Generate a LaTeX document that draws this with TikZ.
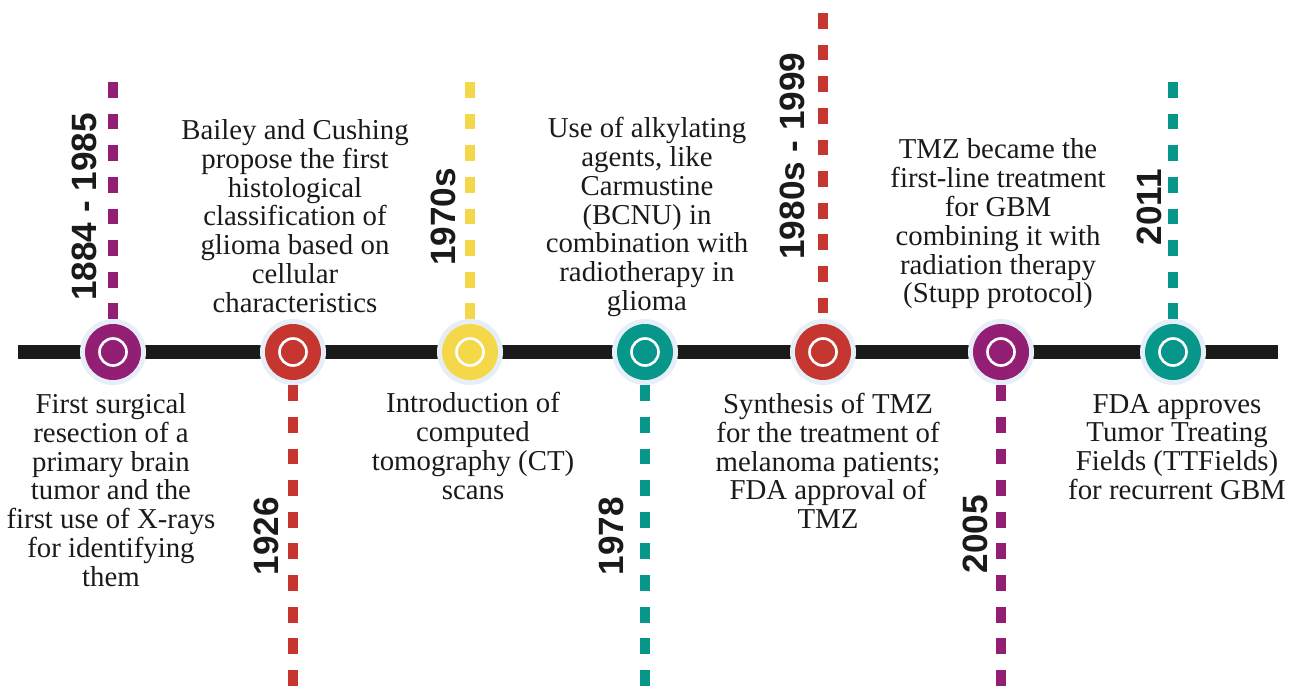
\documentclass[tikz,border=0pt]{standalone}
\usepackage{fontspec}
\setmainfont{Liberation Serif}
\newfontfamily\evfont{Liberation Serif}
\newfontfamily\yearfont{Liberation Sans}
\definecolor{tlpurple}{HTML}{931F74}
\definecolor{tlred}{HTML}{C4362F}
\definecolor{tlyellow}{HTML}{F4D84A}
\definecolor{tlteal}{HTML}{07968A}
\definecolor{tlpale}{HTML}{E6EEF8}
\definecolor{tlblack}{HTML}{1A1A1A}
\tikzset{
  evtext/.style={align=center, inner sep=0pt, text=tlblack, font=\evfont\fontsize{16.4}{16.4}\selectfont},
  yeartext/.style={rotate=90, inner sep=0pt, text=tlblack, font=\yearfont\bfseries\fontsize{20}{22}\selectfont},
  ring/.style={circle, fill=tlpale, minimum size=1.32cm, inner sep=0pt},
  dashline/.style={line width=5.9pt, dash pattern=on 9pt off 9pt},
}
\begin{document}
\begin{tikzpicture}[x=0.02cm, y=-0.02cm]
\useasboundingbox (0,0) rectangle (1290,693);
% timeline
\coordinate (L) at (18,352);
\coordinate (R) at (1278,352);
\draw[line width=8pt, tlblack] (L) -- (R);
% circles
\foreach \n/\x/\c in {c1/113/tlpurple, c2/293/tlred, c3/470/tlyellow, c4/645/tlteal, c5/823/tlred, c6/1001/tlpurple, c7/1173/tlteal}{
  \node[ring] (\n) at (\x,352) {};
  \fill[\c] (\n.center) circle[radius=28];
  \draw[white, line width=1.5pt] (\n.center) circle[radius=13.5];
}
% dashed connectors
\coordinate (t1) at (113,82);
\coordinate (b2) at (293,693);
\coordinate (t3) at (470,82);
\coordinate (b4) at (645,693);
\coordinate (t5) at (823,13);
\coordinate (b6) at (1001,693);
\coordinate (t7) at (1173,82);
\draw[dashline, tlpurple] (t1) -- (c1.north);
\draw[dashline, tlred] (c2.south) -- (b2);
\draw[dashline, tlyellow] (t3) -- (c3.north);
\draw[dashline, tlteal] (c4.south) -- (b4);
\draw[dashline, tlred] (t5) -- (c5.north);
\draw[dashline, tlpurple] (c6.south) -- (b6);
\draw[dashline, tlteal] (t7) -- (c7.north);
% year labels
\node[yeartext] (y1) at (84,207) {1884 - 1985};
\node[yeartext] (y2) at (266,536) {1926};
\node[yeartext] (y3) at (443,217) {1970s};
\node[yeartext] (y4) at (611,536) {1978};
\node[yeartext] (y5) at (792,156) {1980s - 1999};
\node[yeartext] (y6) at (975,534) {2005};
\node[yeartext] (y7) at (1149,207) {2011};
% event texts
\node[evtext] (e1) at (111,490) {First surgical\\resection of a\\primary brain\\tumor and the\\first use of X-rays\\for identifying\\them};
\node[evtext] (e2) at (295,216) {Bailey and Cushing\\propose the first\\histological\\classification of\\glioma based on\\cellular\\characteristics};
\node[evtext] (e3) at (473,446) {Introduction of\\computed\\tomography (CT)\\scans};
\node[evtext] (e4) at (647,217) {Use of alkylating\\agents, like\\Carmustine\\(BCNU) in\\combination with\\radiotherapy in\\glioma};
\node[evtext] (e5) at (828,461) {Synthesis of TMZ\\for the treatment of\\melanoma patients;\\FDA approval of\\TMZ};
\node[evtext] (e6) at (998,224) {TMZ became the\\first-line treatment\\for GBM\\combining it with\\radiation therapy\\(Stupp protocol)};
\node[evtext] (e7) at (1177,447) {FDA approves\\Tumor Treating\\Fields (TTFields)\\for recurrent GBM};
\end{tikzpicture}
\end{document}
